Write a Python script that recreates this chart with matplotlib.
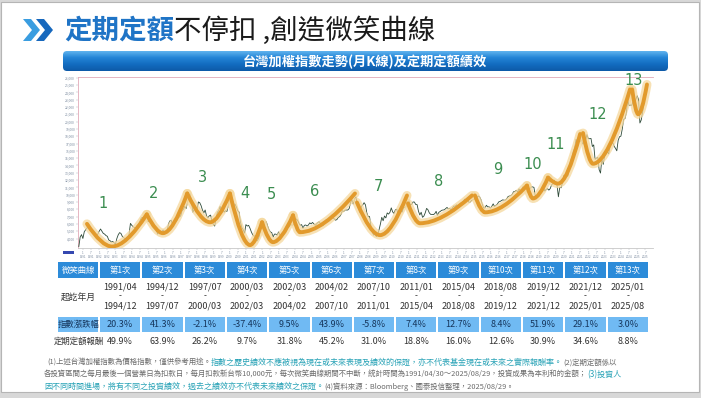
import numpy as np
import matplotlib
matplotlib.use('Agg')
import matplotlib.pyplot as plt
from matplotlib.path import Path
from matplotlib.patches import PathPatch, Rectangle, Polygon, FancyBboxPatch
from matplotlib.colors import LinearSegmentedColormap

plt.rcParams['font.family'] = ['Noto Sans CJK TC', 'DejaVu Sans']

W, H = 701, 398

# TAIEX monthly close, starting 1990/10
first_year, first_month = 1990, 10
taiex = [
    2900, 4200, 4530,                                                      # 1990
    4000, 4900, 5200, 5400, 6100, 5600, 5300, 4700, 4600, 4300, 4500, 4600,  # 1991
    5000, 5300, 5000, 4700, 4600, 4400, 4300, 3800, 3700, 3500, 3600, 3400,  # 1992
    3250, 4000, 4500, 4800, 4700, 4300, 4100, 4000, 3900, 4100, 4600, 6070,  # 1993
    5800, 5600, 5500, 5300, 5800, 5900, 6400, 6800, 6900, 6700, 6800, 7100,  # 1994
    6300, 6400, 6200, 5700, 6000, 5700, 5200, 4600, 5000, 4800, 4900, 5170,  # 1995
    4800, 4700, 5000, 6000, 6400, 6500, 5900, 6300, 6500, 6400, 6900, 6930,  # 1996
    7100, 7800, 8000, 8400, 8100, 9000, 9800, 10100, 8900, 7600, 8000, 8190,  # 1997
    8000, 9000, 8900, 8500, 7900, 7500, 7900, 7100, 6800, 7100, 7200, 6420,  # 1998
    5900, 5700, 6700, 7600, 7800, 8400, 7600, 8100, 7600, 7800, 7700, 8450,  # 1999
    9700, 9900, 9300, 8700, 8700, 8300, 7800, 7600, 6200, 5500, 5200, 4740,  # 2000
    5900, 5700, 5800, 5400, 4900, 4500, 4300, 4400, 3640, 3900, 4400, 5550,  # 2001
    5900, 5700, 6200, 6300, 5700, 5200, 4900, 4800, 4200, 4600, 4600, 4450,  # 2002
    4900, 4500, 4300, 4400, 4600, 5000, 5300, 5600, 5600, 6000, 5800, 5890,  # 2003
    6400, 6700, 6500, 6100, 5800, 5900, 5400, 5800, 5850, 5700, 5850, 6140,  # 2004
    6000, 6200, 6000, 5800, 6000, 6200, 6300, 6000, 6100, 5800, 6200, 6550,  # 2005
    6500, 6600, 6600, 7200, 6800, 6700, 6500, 6600, 6900, 7000, 7300, 7820,  # 2006
    7700, 7900, 7900, 7900, 8100, 8900, 9300, 8700, 9400, 9700, 8600, 8500,  # 2007
    7500, 8400, 8600, 8900, 8600, 7500, 7000, 7000, 5700, 4900, 4460, 4590,  # 2008
    4250, 4550, 5200, 5990, 6900, 6430, 7080, 6820, 7500, 7340, 7580, 8190,  # 2009
    7640, 7430, 7920, 8000, 7370, 7330, 7760, 7620, 8240, 8290, 8370, 8970,  # 2010
    9150, 8600, 8680, 9000, 8990, 8650, 8640, 7740, 7230, 7590, 6900, 7070,  # 2011
    7520, 8120, 7930, 7500, 7300, 7300, 7270, 7400, 7720, 7170, 7580, 7700,  # 2012
    7850, 7900, 7920, 8090, 8250, 8060, 8110, 7910, 8170, 8450, 8400, 8610,  # 2013
    8460, 8640, 8850, 8790, 9080, 9390, 9320, 9440, 8970, 8970, 9190, 9310,  # 2014
    9360, 9620, 9590, 9820, 9700, 9320, 8670, 8170, 8180, 8550, 8320, 8340,  # 2015
    8150, 8410, 8740, 8380, 8540, 8670, 9000, 9070, 9170, 9290, 9240, 9250,  # 2016
    9450, 9750, 9810, 9870, 10040, 10400, 10430, 10590, 10380, 10790, 10560, 10640,  # 2017
    11100, 10820, 10920, 10660, 10870, 10840, 11060, 11060, 11000, 9800, 9890, 9730,  # 2018
    9930, 10390, 10640, 10970, 10500, 10730, 10820, 10620, 10830, 11350, 11490, 11990,  # 2019
    11500, 11290, 9710, 10990, 10940, 11620, 12660, 12590, 12520, 12550, 13720, 14730,  # 2020
    15140, 15950, 16430, 17570, 17070, 17760, 17250, 17490, 16930, 16990, 17430, 18220,  # 2021
    17670, 17650, 17690, 16590, 16810, 14830, 15000, 15100, 13420, 12950, 14880, 14140,  # 2022
    15270, 15500, 15870, 15580, 16580, 16920, 17140, 16630, 16350, 16000, 17430, 17930,  # 2023
    18000, 18970, 20290, 20400, 21170, 23030, 22200, 22270, 22220, 22820, 22260, 23040,  # 2024
    23530, 23000, 19800, 20230, 21350, 22400, 23500, 24200,                # 2025
]

# smile curves: start, bottom, end (year, index level) as drawn on the chart
smile_t0 = [1991.25, 1994.92, 1997.40, 2000.02, 2001.99, 2003.89, 2007.81, 2010.94, 2015.05, 2018.24, 2019.53, 2021.68, 2024.69]
smile_v0 = [6000, 7300, 10160, 10160, 6220, 7170, 8930, 8800, 9890, 11240, 12330, 18430, 24400]
smile_tb = [1992.78, 1995.91, 1998.80, 2001.25, 2002.66, 2004.32, 2009.23, 2011.68, 2015.67, 2018.61, 2020.15, 2022.29, 2025.06]
smile_vb = [2900, 4730, 6220, 3100, 3500, 4860, 4460, 6085, 7580, 9480, 11510, 14230, 21010]
smile_t1 = [1994.92, 1997.40, 2000.02, 2001.99, 2003.89, 2007.69, 2010.88, 2014.87, 2018.24, 2019.53, 2021.50, 2024.56, 2025.60]
smile_v1 = [7300, 10160, 10160, 6220, 7170, 10160, 9890, 9890, 11240, 12330, 18300, 24400, 25080]

# curve number labels
num_t = [1992.25, 1995.32, 1998.35, 2000.94, 2002.58, 2005.24, 2009.12, 2012.80, 2016.45, 2018.57, 2020.02, 2022.56, 2024.77]
num_v = [8840, 10120, 12370, 10120, 9980, 10430, 11100, 11780, 13450, 14130, 16900, 20970, 25630]

# table
col_names = ['第1次', '第2次', '第3次', '第4次', '第5次', '第6次', '第7次',
             '第8次', '第9次', '第10次', '第11次', '第12次', '第13次']
period_start = ['1991/04', '1994/12', '1997/07', '2000/03', '2002/03', '2004/02', '2007/10',
                '2011/01', '2015/04', '2018/08', '2019/12', '2021/12', '2025/01']
period_end = ['1994/12', '1997/07', '2000/03', '2002/03', '2004/02', '2007/10', '2011/01',
              '2015/04', '2018/08', '2019/12', '2021/12', '2025/01', '2025/08']
index_chg = ['20.3%', '41.3%', '-2.1%', '-37.4%', '9.5%', '43.9%', '-5.8%',
             '7.4%', '12.7%', '8.4%', '51.9%', '29.1%', '3.0%']
dca_ret = ['49.9%', '63.9%', '26.2%', '9.7%', '31.8%', '45.2%', '31.0%',
           '18.8%', '16.0%', '12.6%', '30.9%', '34.6%', '8.8%']
row_labels = ['微笑曲線', '起訖年月', '指數漲跌幅', '定期定額報酬']

GRAY = '#6b6b6b'
TEAL = '#27a2b6'
notes = [
    [('(1)上述台灣加權指數為價格指數，僅供參考用途。', GRAY),
     ('指數之歷史績效不應被視為現在或未來表現及績效的保證，亦不代表基金現在或未來之實際報酬率。', TEAL),
     ('(2)定期定額係以', GRAY)],
    [('各投資區間之每月最後一個營業日為扣款日，每月扣款新台幣10,000元，每次微笑曲線期間不中斷，統計時間為1991/04/30～2025/08/29，投資成果為本利和的金額；', GRAY),
     ('(3)投資人', TEAL)],
    [('因不同時間進場，將有不同之投資績效，過去之績效亦不代表未來績效之保證。', TEAL),
     ('(4)資料來源：Bloomberg、國泰投信整理，2025/08/29。', GRAY)],
]

fig = plt.figure(figsize=(W / 100, H / 100), dpi=100)
fig.patch.set_facecolor('#d8d8d8')

# ---- chart ----
ax = fig.add_axes([78 / W, 1 - 248 / H, 575 / W, 171 / H], zorder=2)
n = len(taiex)
t = np.array([first_year + (first_month - 1 + i) / 12 for i in range(n)])
ax.plot(t, taiex, color='#2e4a38', lw=0.6, zorder=3)

for i in range(len(smile_t0)):
    p0 = (smile_t0[i], smile_v0[i])
    pb = (smile_tb[i], smile_vb[i])
    p1 = (smile_t1[i], smile_v1[i])
    c1 = (p0[0] + 0.6 * (pb[0] - p0[0]), pb[1])
    c2 = (pb[0] + 0.4 * (p1[0] - pb[0]), pb[1])
    path = Path([p0, c1, pb, c2, p1],
                [Path.MOVETO, Path.CURVE3, Path.CURVE3, Path.CURVE3, Path.CURVE3])
    ax.add_patch(PathPatch(path, fill=False, ec='#f5d89c', lw=6.5, alpha=0.75,
                           capstyle='round', zorder=4))
    ax.add_patch(PathPatch(path, fill=False, ec='#e29a2c', lw=2.8,
                           capstyle='round', zorder=5))
    ax.text(num_t[i], num_v[i], str(i + 1), color='#3b8d50', fontsize=10.5,
            ha='center', va='center', family='DejaVu Sans', zorder=6)

ax.set_xlim(1990.70, 2025.97)
ax.set_ylim(2700, 26100)
yt = np.arange(4000, 26001, 1000)
ax.set_yticks(yt)
ax.set_yticklabels([f'{v:,}' for v in yt], fontsize=2.4, color='#8a8a8a')
xt = [y + h / 2 for y in range(1991, 2026) for h in (0, 1)]
ax.set_xticks(xt)
ax.set_xticklabels([f'{int(round((v % 1) * 12)) + 1}\n{int(v)}' for v in xt],
                   fontsize=2.2, color='#7d8ca0', linespacing=0.9)
ax.tick_params(length=1.2, width=0.3, pad=1, colors='#aab0bb', labelcolor='#7d8ca0')
ax.spines['right'].set_visible(False)
ax.spines['left'].set_color('#e2a9b8')
ax.spines['top'].set_color('#e2a9b8')
ax.spines['bottom'].set_color('#c8c8c8')
for s in ax.spines.values():
    s.set_linewidth(0.6)

# ---- overlay in pixel units ----
ov = fig.add_axes([0, 0, 1, 1], zorder=1)
ov.set_xlim(0, W)
ov.set_ylim(H, 0)
ov.axis('off')

ov.add_patch(Rectangle((1, 2), W - 3, H - 8, fc='white', ec='#b5b5b5', lw=0.8, zorder=0))

# title chevrons
ov.add_patch(Polygon([(23, 19), (31, 19), (40, 30), (31, 41), (23, 41), (32, 30)],
                     closed=True, fc='#3a9de0', ec='none'))
ov.add_patch(Polygon([(36, 19), (44, 19), (53, 30), (44, 41), (36, 41), (45, 30)],
                     closed=True, fc='#1768bd', ec='none'))
tt = ov.text(64, 31, '定期定額', fontsize=19.8, fontweight='bold', color='#1f74c6', va='center')
fig.canvas.draw()
rend = fig.canvas.get_renderer()
bb = tt.get_window_extent(rend)
ov.text(64 + bb.width, 31, '不停扣 ,創造微笑曲線', fontsize=19.8, color='#1a1a1a', va='center')

# banner
grad = np.linspace(0, 1, 50).reshape(-1, 1)
cmap = LinearSegmentedColormap.from_list('b', ['#5fb3ee', '#2384d6', '#136cc0', '#0d5aa8'])
banner = FancyBboxPatch((63, 51), 605, 20, boxstyle='round,pad=0,rounding_size=4',
                        fc='none', ec='none')
ov.add_patch(banner)
im = ov.imshow(grad, extent=(63, 668, 71, 51), aspect='auto', cmap=cmap, zorder=1)
im.set_clip_path(banner)
ov.text(365, 61.5, '台灣加權指數走勢(月K線)及定期定額績效', fontsize=9.5, fontweight='bold',
        color='white', ha='center', va='center', zorder=2)
ov.set_xlim(0, W)
ov.set_ylim(H, 0)

# small blue mark under y axis
ov.add_patch(Rectangle((63, 251), 11, 3, fc='#3548b0', ec='none'))

# ---- table ----
x_left, x_first, cw = 58, 99, 42.3
hdr_c, row3_c = '#2c8bd9', '#70baf3'
ov.add_patch(Rectangle((x_left, 262), x_first - x_left - 1, 16, fc=hdr_c, ec='none'))
ov.add_patch(Rectangle((x_left, 317), x_first - x_left - 1, 15, fc=row3_c, ec='none'))
ov.text((x_left + x_first) / 2, 270, row_labels[0], fontsize=6, color='white', ha='center', va='center')
ov.text((x_left + x_first) / 2, 297, row_labels[1], fontsize=6.3, color='#333333', ha='center', va='center')
ov.text((x_left + x_first) / 2, 324.5, row_labels[2], fontsize=6, color='#16365c', ha='center', va='center')
ov.text((x_left + x_first) / 2, 341.5, row_labels[3], fontsize=6, color='#333333', ha='center', va='center')
for i in range(len(col_names)):
    x0 = x_first + i * cw
    xc = x0 + cw / 2
    ov.add_patch(Rectangle((x0 + 1, 262), cw - 2, 16, fc=hdr_c, ec='none'))
    ov.add_patch(Rectangle((x0 + 1, 317), cw - 2, 15, fc=row3_c, ec='none'))
    ov.text(xc, 270, col_names[i], fontsize=6, color='white', ha='center', va='center')
    ov.text(xc, 287, period_start[i], fontsize=6.5, color='#333333', ha='center', va='center')
    ov.text(xc, 296, '-', fontsize=6, color='#333333', ha='center', va='center')
    ov.text(xc, 306, period_end[i], fontsize=6.5, color='#333333', ha='center', va='center')
    ov.text(xc, 324.5, index_chg[i], fontsize=6.5, color='#16365c', ha='center', va='center')
    ov.text(xc, 341.5, dca_ret[i], fontsize=6.5, color='#333333', ha='center', va='center')

# ---- footnotes ----
note_x = [47, 44, 44]
note_y = [365, 377, 389]
for k, runs in enumerate(notes):
    x = note_x[k]
    for s, c in runs:
        fs = 5.8 if c == TEAL else 5.35
        tx = ov.text(x, note_y[k], s, fontsize=fs, color=c, va='baseline')
        x += tx.get_window_extent(rend).width

fig.savefig('out.png', dpi=100, facecolor=fig.get_facecolor())
